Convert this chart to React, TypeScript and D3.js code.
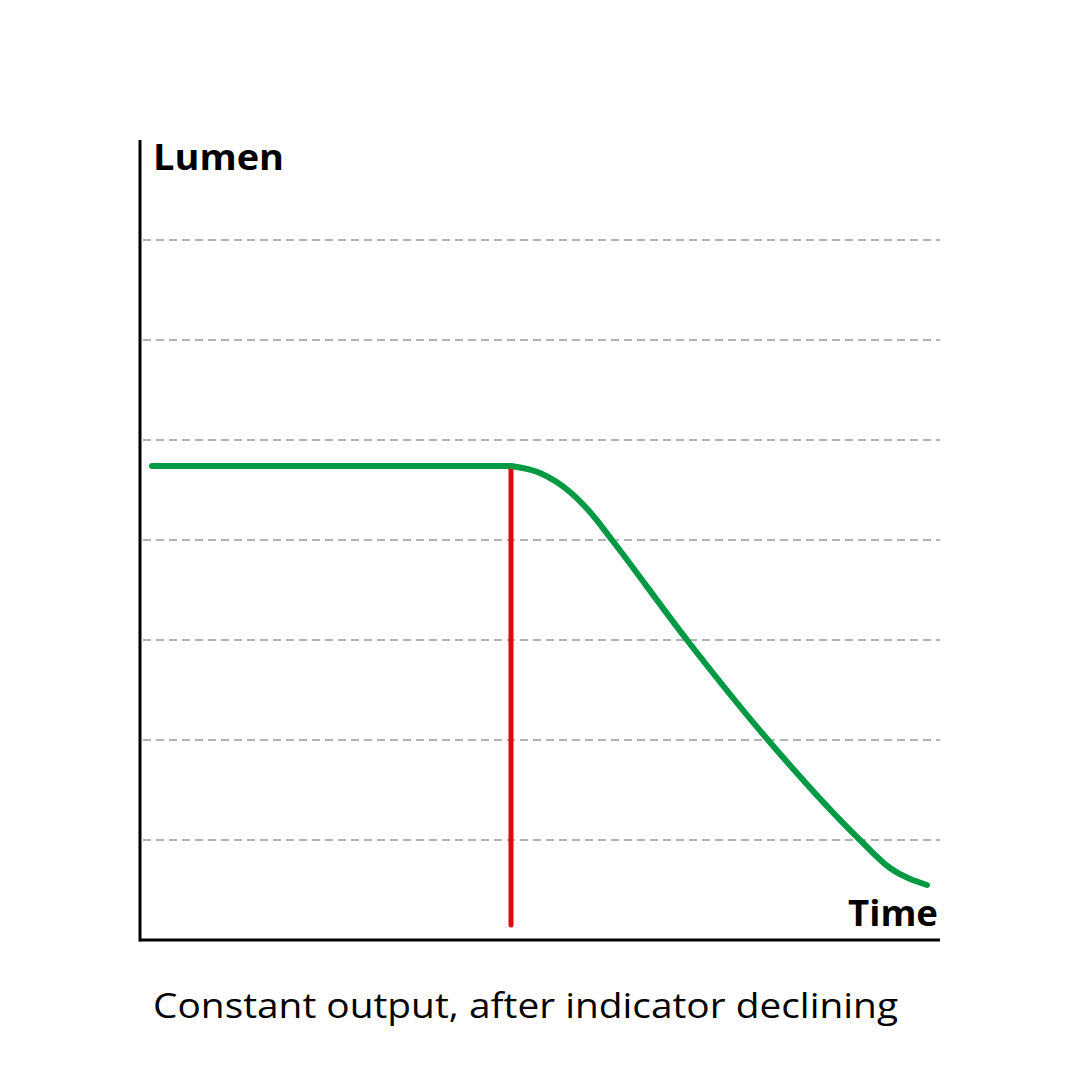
import * as d3 from "d3";

// values in chart units (x: time, y: lumen), 0..8 on both axes
const gridLevels = [1, 2, 3, 4, 5, 6, 7];
const flatX = [0.12, 3.71];
const flatY = [4.74, 4.74];
const declineX = [3.71, 4.0, 4.3, 4.5, 4.72, 5.47, 6.28, 7.2, 7.5, 7.87];
const declineY = [4.74, 4.67, 4.48, 4.28, 4.0, 3.0, 2.0, 1.0, 0.72, 0.55];
const indicatorX = 3.71;
const indicatorY = [4.74, 0.15];
const yLabel = "Lumen";
const xLabel = "Time";
const caption = "Constant output, after indicator declining";

const W = 1080;
const H = 1080;
const FONT = "'Open Sans', 'Noto Sans', sans-serif";

export default function App() {
  const x = d3.scaleLinear().domain([0, 8]).range([140, 940]);
  const y = d3.scaleLinear().domain([0, 8]).range([940, 140]);

  const line = d3
    .line<[number, number]>()
    .x((d) => x(d[0]))
    .y((d) => y(d[1]));
  const curve = d3
    .line<[number, number]>()
    .x((d) => x(d[0]))
    .y((d) => y(d[1]))
    .curve(d3.curveMonotoneX);

  const flat = flatX.map((v, i) => [v, flatY[i]] as [number, number]);
  const decline = declineX.map((v, i) => [v, declineY[i]] as [number, number]);

  return (
    <svg
      width={W}
      height={H}
      style={{ position: "absolute", left: 0, top: 0, background: "#fff" }}
    >
      {gridLevels.map((g) => (
        <line
          key={g}
          x1={x(0) + 3}
          x2={x(8)}
          y1={y(g)}
          y2={y(g)}
          stroke="#9a9a9a"
          strokeWidth={1.6}
          strokeDasharray="8 5"
        />
      ))}
      {/* axes */}
      <line x1={x(0)} x2={x(0)} y1={y(8)} y2={y(0) + 1.5} stroke="#000" strokeWidth={3} />
      <line x1={x(0)} x2={x(8)} y1={y(0)} y2={y(0)} stroke="#000" strokeWidth={3} />

      <path
        d={line(flat) ?? ""}
        fill="none"
        stroke="#009a44"
        strokeWidth={6}
        strokeLinecap="round"
      />
      <line
        x1={x(indicatorX)}
        x2={x(indicatorX)}
        y1={y(indicatorY[0])}
        y2={y(indicatorY[1])}
        stroke="#e30613"
        strokeWidth={5}
        strokeLinecap="round"
      />
      <path
        d={curve(decline) ?? ""}
        fill="none"
        stroke="#009a44"
        strokeWidth={6}
        strokeLinecap="round"
        strokeLinejoin="round"
      />

      <text
        x={153}
        y={170}
        fontFamily={FONT}
        fontWeight={700}
        fontSize={36}
        textLength={131}
        lengthAdjust="spacingAndGlyphs"
        fill="#000"
      >
        {yLabel}
      </text>
      <text
        x={848}
        y={926}
        fontFamily={FONT}
        fontWeight={700}
        fontSize={36}
        textLength={90}
        lengthAdjust="spacingAndGlyphs"
        fill="#000"
      >
        {xLabel}
      </text>
      <text
        x={153}
        y={1018}
        fontFamily={FONT}
        fontSize={35}
        textLength={745}
        lengthAdjust="spacingAndGlyphs"
        fill="#000"
      >
        {caption}
      </text>
    </svg>
  );
}
